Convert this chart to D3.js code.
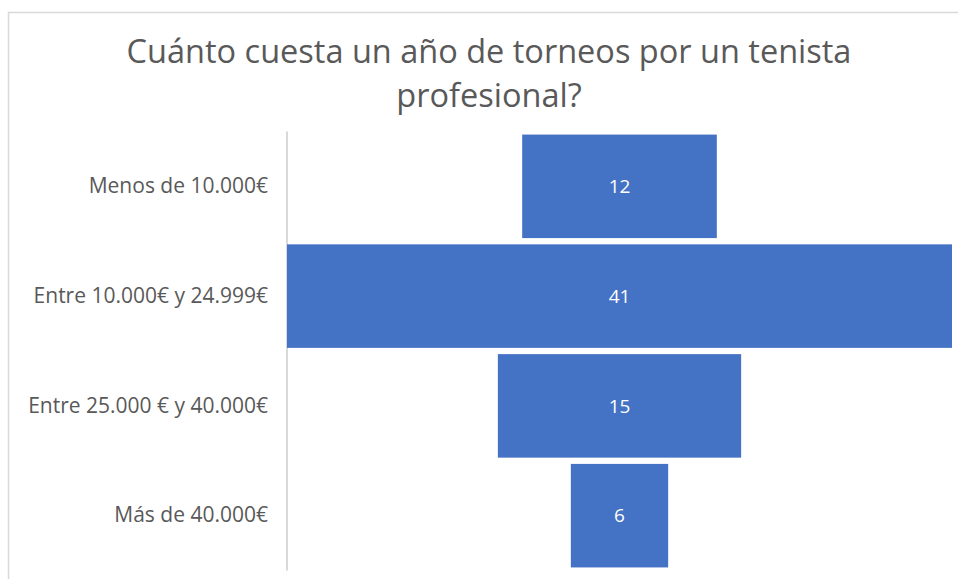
<!DOCTYPE html>
<html>
<head>
<meta charset="utf-8">
<script src="https://cdn.jsdelivr.net/npm/d3@7"></script>
<style>
	body { margin: 0; background: #fff; }
	svg { display: block; font-family: "Open Sans", sans-serif; }
</style>
</head>
<body>
<div id="chart"></div>
<script>
// Data
const categories = ["Menos de 10.000€", "Entre 10.000€ y 24.999€", "Entre 25.000 € y 40.000€", "Más de 40.000€"];
const values = [12, 41, 15, 6];
const titleLines = ["Cuánto cuesta un año de torneos por un tenista", "profesional?"];

const width = 958, height = 579;
const plot = { left: 287, right: 952, top: 131.5, bottom: 570.5 };

const svg = d3.select("#chart").append("svg")
	.attr("width", width).attr("height", height);

// chart border
svg.append("rect")
	.attr("x", 8.5).attr("y", 12.5)
	.attr("width", width).attr("height", height)
	.attr("fill", "none").attr("stroke", "#d9d9d9").attr("stroke-width", 1.5);

// title
svg.append("text")
	.attr("x", 489).attr("y", 63)
	.attr("text-anchor", "middle")
	.attr("fill", "#595959").style("font-size", "32.5px")
	.selectAll("tspan").data(titleLines).join("tspan")
	.attr("x", 489).attr("dy", (d, i) => i ? 44 : 0)
	.text(d => d);

// scales: funnel, bars centred on the middle of the plot
const maxVal = d3.max(values);
const scaleW = d3.scaleLinear([0, maxVal], [0, plot.right - plot.left]);
const centerX = (plot.left + plot.right) / 2;
const scaleY = d3.scaleBand(categories, [plot.top, plot.bottom]).paddingInner(0.057).paddingOuter(0.028);

// axis line + labels
const axisY = d3.axisLeft(scaleY).tickSize(0).tickPadding(19);
const gAxis = svg.append("g")
	.attr("transform", `translate(${plot.left}, 0)`)
	.call(axisY);
gAxis.select(".domain").attr("stroke", "#d9d9d9").attr("stroke-width", 2)
	.attr("d", `M0,${plot.top}V${plot.bottom}`);
gAxis.selectAll("text")
	.attr("fill", "#595959")
	.style("font-family", "Open Sans, sans-serif")
	.style("font-size", "21px");

const data = categories.map((c, i) => [c, values[i]]);

svg.append("g").selectAll("rect.bar")
	.data(data).join("rect")
	.classed("bar", true)
	.attr("x", d => centerX - scaleW(d[1]) / 2)
	.attr("y", d => scaleY(d[0]))
	.attr("width", d => scaleW(d[1]))
	.attr("height", scaleY.bandwidth())
	.attr("fill", "#4472c4");

svg.append("g").selectAll("text.val")
	.data(data).join("text")
	.classed("val", true)
	.attr("x", centerX)
	.attr("y", d => scaleY(d[0]) + scaleY.bandwidth() / 2)
	.attr("dy", "0.35em")
	.attr("text-anchor", "middle")
	.attr("fill", "#fff")
	.style("font-size", "19px")
	.text(d => d[1]);
</script>
</body>
</html>
